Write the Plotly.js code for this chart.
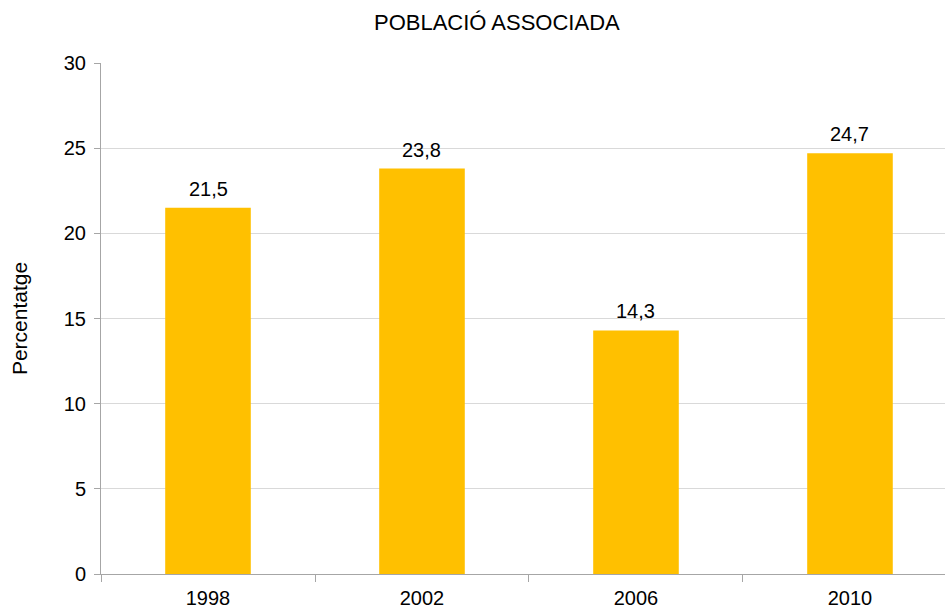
<!DOCTYPE html>
<html>
<head>
<meta charset="utf-8">
<script src="https://cdn.plot.ly/plotly-3.0.1.min.js"></script>
<style>html,body{margin:0;padding:0;background:#fff;overflow:hidden}</style>
</head>
<body>
<div id="chart" style="width:945px;height:609px"></div>
<script>
const years = ['1998', '2002', '2006', '2010'];
const values = [21.5, 23.8, 14.3, 24.7];
const yTicks = [0, 5, 10, 15, 20, 25, 30];
const chartTitle = 'POBLACIÓ ASSOCIADA';
const yTitle = 'Percentatge';

const font = 'Liberation Sans, Arial, sans-serif';

const trace = {
  type: 'bar',
  x: years,
  y: values,
  width: 0.4,
  marker: {color: '#FFC000'},
  hoverinfo: 'x+y'
};

const annotations = years.map((yr, i) => ({
  x: i,
  y: values[i],
  xref: 'x',
  yref: 'y',
  text: values[i].toFixed(1).replace('.', ','),
  showarrow: false,
  xanchor: 'center',
  yanchor: 'bottom',
  yshift: 6,
  font: {family: font, size: 20, color: '#000'}
}));

const layout = {
  width: 945,
  height: 609,
  margin: {l: 101, r: 0, t: 63, b: 35},
  paper_bgcolor: '#fff',
  plot_bgcolor: '#fff',
  showlegend: false,
  title: {
    text: chartTitle,
    x: 0.469,
    xref: 'paper',
    xanchor: 'center',
    y: 0.964,
    yanchor: 'middle',
    font: {family: font, size: 22, color: '#000'}
  },
  xaxis: {
    type: 'category',
    range: [-0.5, 3.444],
    showline: true,
    linecolor: '#a6a6a6',
    linewidth: 1,
    ticks: 'outside',
    tickson: 'boundaries',
    ticklen: 7,
    tickcolor: '#a6a6a6',
    showgrid: false,
    ticklabelstandoff: 6,
    tickfont: {family: font, size: 20, color: '#000'},
    fixedrange: true
  },
  yaxis: {
    range: [0, 30],
    tickvals: yTicks,
    ticktext: yTicks.map(String),
    showline: true,
    linecolor: '#a6a6a6',
    linewidth: 1,
    ticks: 'outside',
    ticklen: 6,
    tickcolor: '#a6a6a6',
    showgrid: true,
    gridcolor: '#d9d9d9',
    zeroline: false,
    ticklabelstandoff: 4,
    tickfont: {family: font, size: 20, color: '#000'},
    title: {text: yTitle, standoff: 30, font: {family: font, size: 21, color: '#000'}},
    fixedrange: true
  },
  annotations: annotations
};

Plotly.newPlot('chart', [trace], layout, {displayModeBar: false, staticPlot: true});
</script>
</body>
</html>
